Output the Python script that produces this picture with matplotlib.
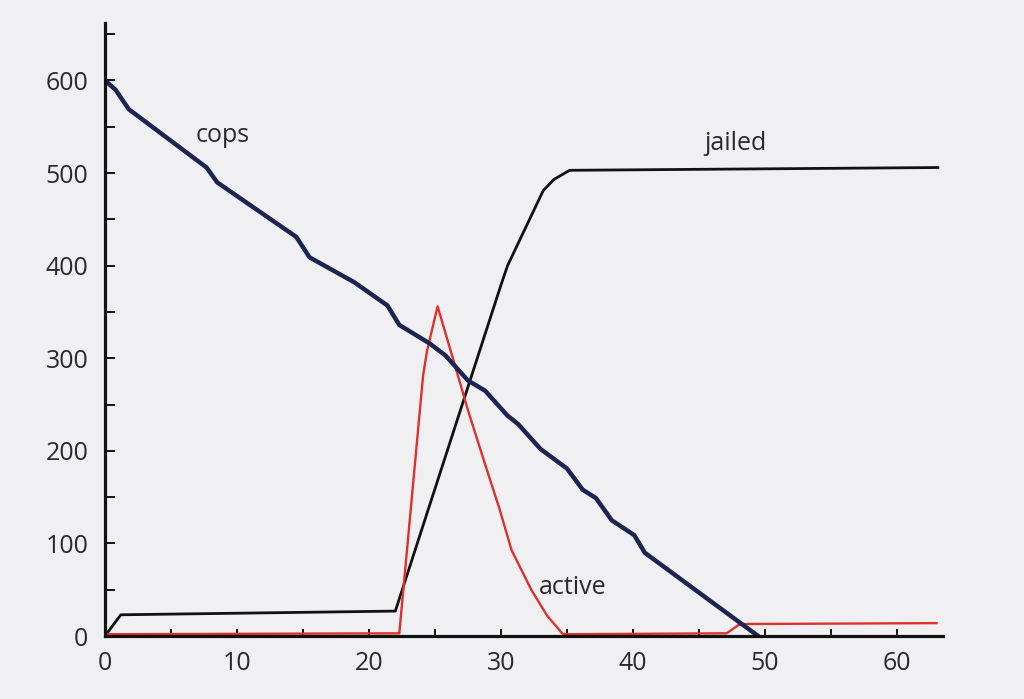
import matplotlib.pyplot as plt
from matplotlib.ticker import MultipleLocator

### Data ###

cops_x = [0, 0.8, 1.8, 7.7, 8.5, 14.5, 15.5, 18.9, 21.4, 22.3, 24.6, 25.8, 27.5, 28.8,
          30.5, 31.3, 33.0, 35.0, 36.2, 37.2, 38.4, 40.1, 40.9, 48.2, 49.5]
cops_y = [600, 590, 569, 506, 490, 431, 409, 382, 357, 336, 316, 303, 276, 265,
          238, 229, 202, 181, 158, 149, 125, 109, 90, 13.5, 0]

jailed_x = [0, 1.2, 22.0, 30.0, 30.5, 33.2, 34.0, 35.2, 63.1]
jailed_y = [0, 23, 27, 379, 400, 481, 493, 503, 506]

active_x = [0, 22.3, 24.1, 24.4, 25.2, 26.4, 27.5, 28.7, 29.9, 30.8, 32.3, 33.5,
            34.7, 47.1, 48.1, 63.0]
active_y = [2, 3, 281, 308, 356, 298, 244, 190, 137, 93, 50, 22,
            2, 3, 13, 14]

x_ticks = [0, 10, 20, 30, 40, 50, 60]
y_ticks = [0, 100, 200, 300, 400, 500, 600]

### Plot ###

plt.rcParams['font.family'] = ['Open Sans', 'DejaVu Sans']
bg = '#f0f0f2'
ink = '#2a2a2a'

fig = plt.figure(figsize=(10.24, 6.99), dpi=100, facecolor=bg)
ax = fig.add_axes([0.1025, 0.090, 0.8185, 0.877])
ax.set_facecolor(bg)

ax.plot(jailed_x, jailed_y, color='#111111', lw=2.0, solid_joinstyle='round')
ax.plot(active_x, active_y, color='#e0302b', lw=1.7, solid_joinstyle='round')
ax.plot(cops_x, cops_y, color='#1c2452', lw=3.2, solid_joinstyle='round',
        solid_capstyle='round')

ax.text(8.9, 541, 'cops', fontsize=18, color=ink, ha='center', va='center')
ax.text(47.8, 532, 'jailed', fontsize=18, color=ink, ha='center', va='center')
ax.text(35.4, 52, 'active', fontsize=18, color=ink, ha='center', va='center')

ax.set_xlim(0, 63.5)
ax.set_ylim(0, 662)

for side in ['top', 'right']:
  ax.spines[side].set_visible(False)
for side in ['left', 'bottom']:
  ax.spines[side].set_linewidth(2.3)
  ax.spines[side].set_color('#111111')

ax.set_xticks(x_ticks)
ax.set_yticks(y_ticks)
ax.xaxis.set_minor_locator(MultipleLocator(5))
ax.yaxis.set_minor_locator(MultipleLocator(50))
ax.tick_params(which='both', direction='in', width=1.4, color='#111111')
ax.tick_params(axis='y', which='both', length=7)
ax.tick_params(axis='x', which='both', length=5)
ax.tick_params(axis='y', which='major', labelsize=18, labelcolor=ink, pad=12)
ax.tick_params(axis='x', which='major', labelsize=18, labelcolor=ink, pad=11)

fig.savefig('out.png', dpi=100, facecolor=bg)
